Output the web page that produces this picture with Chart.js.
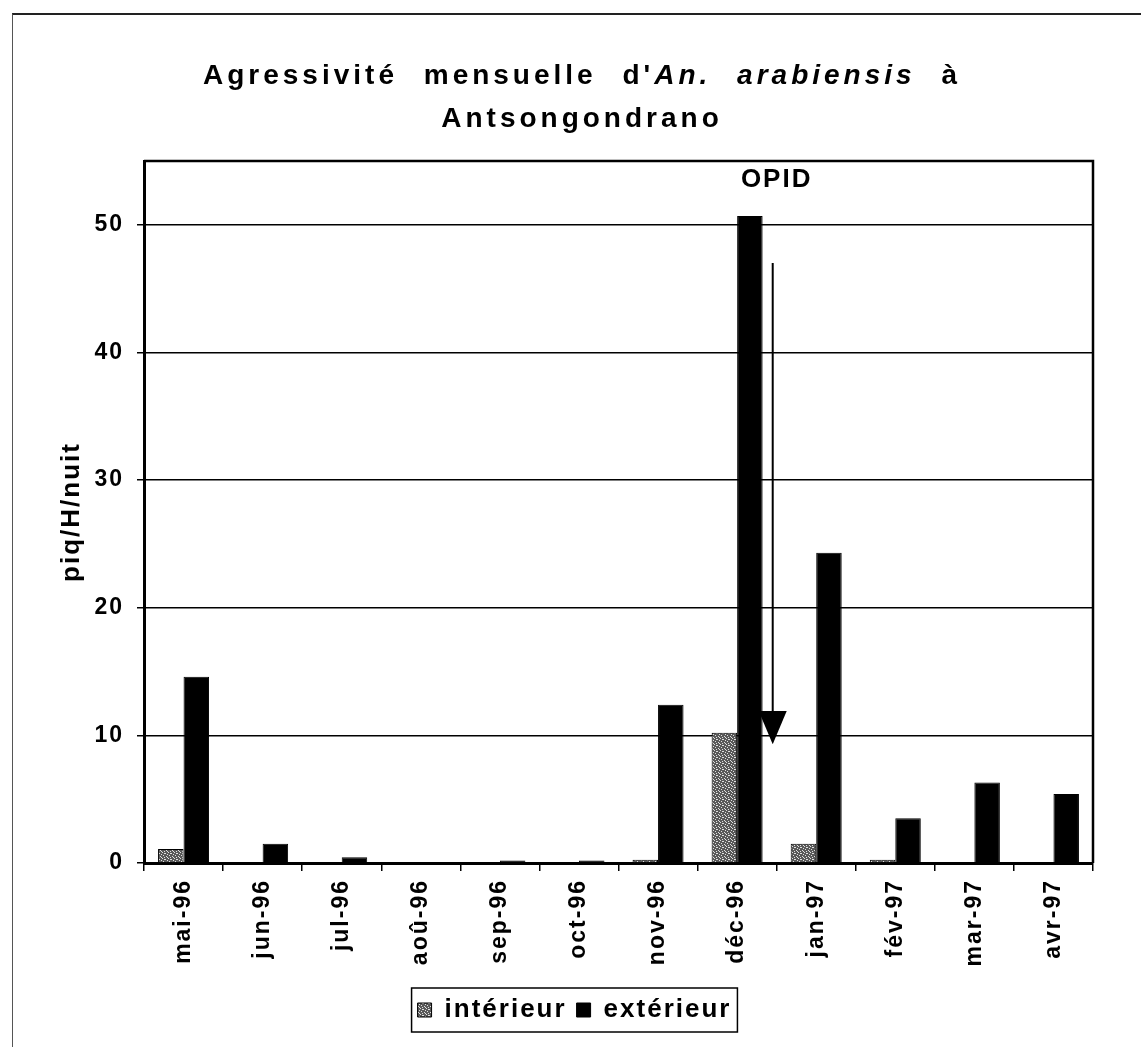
<!DOCTYPE html>
<html>
<head>
<meta charset="utf-8">
<script src="https://cdn.jsdelivr.net/npm/chart.js@4"></script>
<style>
  html, body { margin: 0; padding: 0; background: #fff; overflow: hidden; }
  #wrap { position: relative; width: 1141px; height: 1047px; }
  #frame { position: absolute; left: 12px; top: 13px; right: -2px; bottom: -2px; border-top: 2px solid #222; border-left: 1px solid #555; }
  #title { position: absolute; left: 100px; width: 964px; top: 53px; text-align: center;
           font-family: "Liberation Sans", Arial, sans-serif; font-weight: bold; font-size: 28px;
           line-height: 43px; letter-spacing: 4px; word-spacing: 14px; color: #000; }
  canvas { position: absolute; left: 0; top: 0; }
</style>
</head>
<body>
<div id="wrap">
  <div id="frame"></div>
  <canvas id="chart" width="1141" height="1047"></canvas>
  <div id="title">Agressivité mensuelle d'<i>An. arabiensis</i> à<br>Antsongondrano</div>
</div>
<script>
let months = ['mai-96', 'jun-96', 'jul-96', 'aoû-96', 'sep-96', 'oct-96',
              'nov-96', 'déc-96', 'jan-97', 'fév-97', 'mar-97', 'avr-97'];
let interieur = [1.1, 0, 0, 0, 0, 0, 0.25, 10.2, 1.5, 0.25, 0, 0];
let exterieur = [14.6, 1.5, 0.45, 0, 0.2, 0.2, 12.4, 50.7, 24.3, 3.5, 6.3, 5.4];
let yTicks = [0, 10, 20, 30, 40, 50];
let yMax = 55;

// OPID treatment marker (x in category units, y in piq/H/nuit)
let opidText = 'OPID';
let opidX = 7.5;
let opidY = 53.5;
let arrowX = 7.45;
let arrowTop = 47;
let arrowHead = 11.9;
let arrowTip = 9.3;

const fontFamily = '"Liberation Sans", Arial, sans-serif';

// stippled grey fill for the indoor series
function makeStipple() {
    let c = document.createElement('canvas');
    c.width = 6;
    c.height = 6;
    let p = c.getContext('2d');
    p.fillStyle = '#595959';
    p.fillRect(0, 0, 6, 6);
    p.fillStyle = '#e0e0e0';
    let dots = [[0, 0], [3, 1], [5, 2], [1, 3], [4, 4], [2, 5], [5, 5], [2, 1]];
    for (let i = 0; i < dots.length; i++) {
        p.fillRect(dots[i][0], dots[i][1], 1, 1);
    }
    return p.createPattern(c, 'repeat');
}

const spacing = {
    id: 'spacing',
    beforeUpdate(chart) { chart.ctx.letterSpacing = '2px'; },
    beforeLayout(chart) { chart.ctx.letterSpacing = '2px'; },
    beforeDraw(chart) { chart.ctx.letterSpacing = '2px'; }
};

const frameAndMarks = {
    id: 'frameAndMarks',
    afterDatasetsDraw(chart) {
        const ctx = chart.ctx;
        const x = chart.scales.x;
        const y = chart.scales.y;
        const a = chart.chartArea;
        ctx.save();
        ctx.strokeStyle = '#000';
        ctx.lineWidth = 2.5;
        ctx.beginPath();
        ctx.moveTo(a.left, a.top);
        ctx.lineTo(a.right, a.top);
        ctx.lineTo(a.right, a.bottom);
        ctx.stroke();

        let px = x.getPixelForValue(arrowX);
        let yHead = y.getPixelForValue(arrowHead);
        ctx.lineWidth = 2;
        ctx.beginPath();
        ctx.moveTo(px, y.getPixelForValue(arrowTop));
        ctx.lineTo(px, yHead);
        ctx.stroke();
        ctx.fillStyle = '#000';
        ctx.beginPath();
        ctx.moveTo(px - 14, yHead);
        ctx.lineTo(px + 14, yHead);
        ctx.lineTo(px, y.getPixelForValue(arrowTip));
        ctx.closePath();
        ctx.fill();

        ctx.font = 'bold 26px ' + fontFamily;
        ctx.letterSpacing = '2px';
        ctx.textAlign = 'center';
        ctx.textBaseline = 'middle';
        ctx.fillText(opidText, x.getPixelForValue(opidX), y.getPixelForValue(opidY));
        ctx.restore();
    },
    afterDraw(chart) {
        const boxes = chart.legend.legendHitBoxes;
        if (!boxes || !boxes.length) return;
        let left = Math.min(...boxes.map(b => b.left));
        let right = Math.max(...boxes.map(b => b.left + b.width));
        let top = Math.min(...boxes.map(b => b.top));
        let bottom = Math.max(...boxes.map(b => b.top + b.height));
        const ctx = chart.ctx;
        ctx.save();
        ctx.strokeStyle = '#000';
        ctx.lineWidth = 1.5;
        ctx.strokeRect(left - 6, top - 9, right - left + 12, bottom - top + 18);
        ctx.restore();
    }
};

Chart.defaults.font.family = fontFamily;
Chart.defaults.font.weight = 'bold';
Chart.defaults.color = '#000';

const ctx = document.getElementById('chart');
const stipple = makeStipple();

new Chart(ctx, {
    type: 'bar',
    data: {
        labels: months,
        datasets: [{
            label: 'intérieur',
            data: interieur,
            backgroundColor: stipple,
            borderColor: '#000',
            borderWidth: 1
        }, {
            label: 'extérieur',
            data: exterieur,
            backgroundColor: '#000',
            borderColor: '#000',
            borderWidth: 1
        }]
    },
    options: {
        responsive: false,
        animation: false,
        devicePixelRatio: 1,
        layout: { padding: { top: 161, right: 48, left: 56, bottom: 14 } },
        datasets: { bar: { categoryPercentage: 0.645, barPercentage: 1.0 } },
        scales: {
            x: {
                offset: true,
                grid: { offset: true, drawOnChartArea: false, drawTicks: true, tickLength: 8, color: '#000', lineWidth: 1.5 },
                border: { color: '#000', width: 3 },
                ticks: { font: { size: 23, weight: 'bold' }, maxRotation: 90, minRotation: 90, padding: 8, color: '#000' },
                afterFit(scale) { scale.height = 124; }
            },
            y: {
                min: 0,
                max: yMax,
                afterBuildTicks(scale) { scale.ticks = yTicks.map(v => ({ value: v })); },
                grid: { color: '#000', lineWidth: 1.5, tickLength: 7 },
                border: { color: '#000', width: 3 },
                ticks: { font: { size: 23, weight: 'bold' }, padding: 13, color: '#000' },
                title: { display: true, text: 'piq/H/nuit', font: { size: 26, weight: 'bold' }, color: '#000', padding: { top: 0, bottom: 0 } },
                afterFit(scale) { scale.width = 88; }
            }
        },
        plugins: {
            legend: {
                position: 'bottom',
                labels: { boxWidth: 14, boxHeight: 14, padding: 10, font: { size: 26, weight: 'bold' }, color: '#000' }
            },
            tooltip: { enabled: false }
        }
    },
    plugins: [spacing, frameAndMarks]
});
</script>
</body>
</html>
